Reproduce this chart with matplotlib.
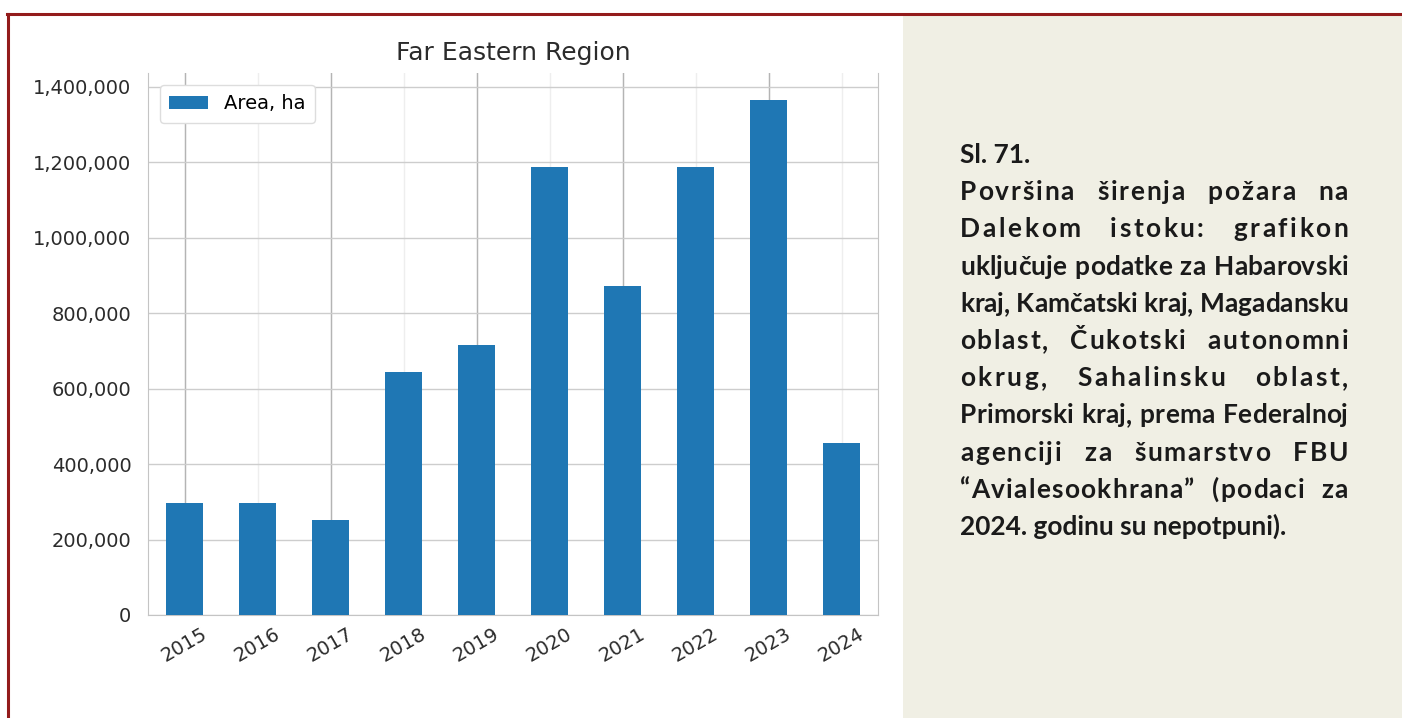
import matplotlib.pyplot as plt
import numpy as np
from matplotlib import font_manager as fm
from matplotlib.ft2font import FT2Font
from matplotlib.patches import Rectangle
from matplotlib.lines import Line2D
from matplotlib.ticker import FuncFormatter

# data
years = ["2015", "2016", "2017", "2018", "2019", "2020", "2021", "2022", "2023", "2024"]
area_ha = [296000, 296000, 252000, 645000, 716000, 1186000, 873000, 1186000, 1364000, 457000]
series_name = "Area, ha"
chart_title = "Far Eastern Region"

caption_head = "Sl. 71."
caption_lines = [
    "Površina širenja požara na",
    "Dalekom istoku: grafikon",
    "uključuje podatke za Habarovski",
    "kraj, Kamčatski kraj, Magadansku",
    "oblast, Čukotski autonomni",
    "okrug, Sahalinsku oblast,",
    "Primorski kraj, prema Federalnoj",
    "agenciji za šumarstvo FBU",
    "“Avialesookhrana” (podaci za",
    "2024. godinu su nepotpuni).",
]

W, H = 1402, 718
BORDER = "#931b1b"
PANEL = "#f0efe4"
BLUE = "#1f77b4"

fig = plt.figure(figsize=(W / 100, H / 100), dpi=100, facecolor="white")


def fx(px):
    return px / W


def fy(py):
    return 1 - py / H


# frame and caption panel
fig.add_artist(Rectangle((fx(903), 0), fx(W - 903), fy(15), transform=fig.transFigure,
                         facecolor=PANEL, edgecolor="none", zorder=0))
fig.add_artist(Line2D([fx(7), 1], [fy(14), fy(14)], transform=fig.transFigure,
                      color=BORDER, lw=2.2))
fig.add_artist(Line2D([fx(8), fx(8)], [0, fy(14)], transform=fig.transFigure,
                      color=BORDER, lw=2.2))

# chart
ax = fig.add_axes([fx(148), fy(615), fx(878 - 148), (615 - 73) / H])
x = np.arange(len(years))
ax.bar(x, area_ha, width=0.5, color=BLUE, label=series_name, zorder=3)
ax.set_xlim(-0.5, len(years) - 0.5)
ax.set_ylim(0, max(area_ha) * 1.053)
ax.set_xticks(x)
ax.set_xticklabels(years, rotation=30, ha="center")
# every other year gets a stronger vertical line
ax.xaxis.remove_overlapping_locs = False
ax.set_xticks(x[::2], minor=True)
ax.set_yticks(np.arange(0, 1400001, 200000))
ax.yaxis.set_major_formatter(FuncFormatter(lambda v, p: f"{v:,.0f}"))
ax.tick_params(axis="both", which="both", length=0, labelsize=14, colors="#2b2b2b")
ax.tick_params(axis="y", pad=12)
ax.tick_params(axis="x", pad=7)
ax.grid(axis="y", color="#cdcdcd", lw=1, zorder=0)
ax.grid(axis="x", which="major", color="#eeeeee", lw=1, zorder=0)
ax.grid(axis="x", which="minor", color="#b4b4b4", lw=1, zorder=0)
ax.set_axisbelow(True)
for side in ["left", "right", "bottom"]:
    ax.spines[side].set_color("#c4c4c4")
ax.spines["top"].set_visible(False)
ax.set_title(chart_title, fontsize=18, color="#2b2b2b", pad=9)
leg = ax.legend(loc="upper left", fontsize=14, frameon=True, fancybox=True,
                edgecolor="#dddddd", framealpha=1, borderaxespad=0.6,
                borderpad=0.5)

# caption, justified by hand
cap_font = "Lato"
fpath = fm.findfont(fm.FontProperties(family=cap_font, weight="bold"))
ft = FT2Font(fpath)


def advances(s, size):
    ft.set_size(size, 100)
    return [ft.load_char(ord(c)).linearHoriAdvance / 65536 for c in s]


left, right = 960, 1348
tight = ["uključuje podatke za Habarovski", "kraj, Kamčatski kraj, Magadansku",
         "Primorski kraj, prema Federalnoj"]
widest = max(sum(advances(s, 10)) for s in tight)
size = 10 * (right - left) / widest
text_kw = dict(fontfamily=cap_font, fontweight="bold", color="#1a1a1a",
               fontsize=size, va="baseline", ha="left")

base = 163
pitch = 37.2
fig.text(fx(left), fy(base), caption_head, **text_kw)
for i, line in enumerate(caption_lines):
    y = base + pitch * (i + 1)
    if i == len(caption_lines) - 1:
        fig.text(fx(left), fy(y), line, **text_kw)
        continue
    adv = advances(line, size)
    extra = (right - left) - sum(adv)
    n_sp = line.count(" ")
    weight = (len(line) - 1) + 7 * n_sp
    unit = extra / weight
    pos = left
    for c, a in zip(line, adv):
        if c != " ":
            fig.text(fx(pos), fy(y), c, **text_kw)
        pos += a + unit + (7 * unit if c == " " else 0)

fig.savefig("out.png", dpi=100, facecolor="white")
